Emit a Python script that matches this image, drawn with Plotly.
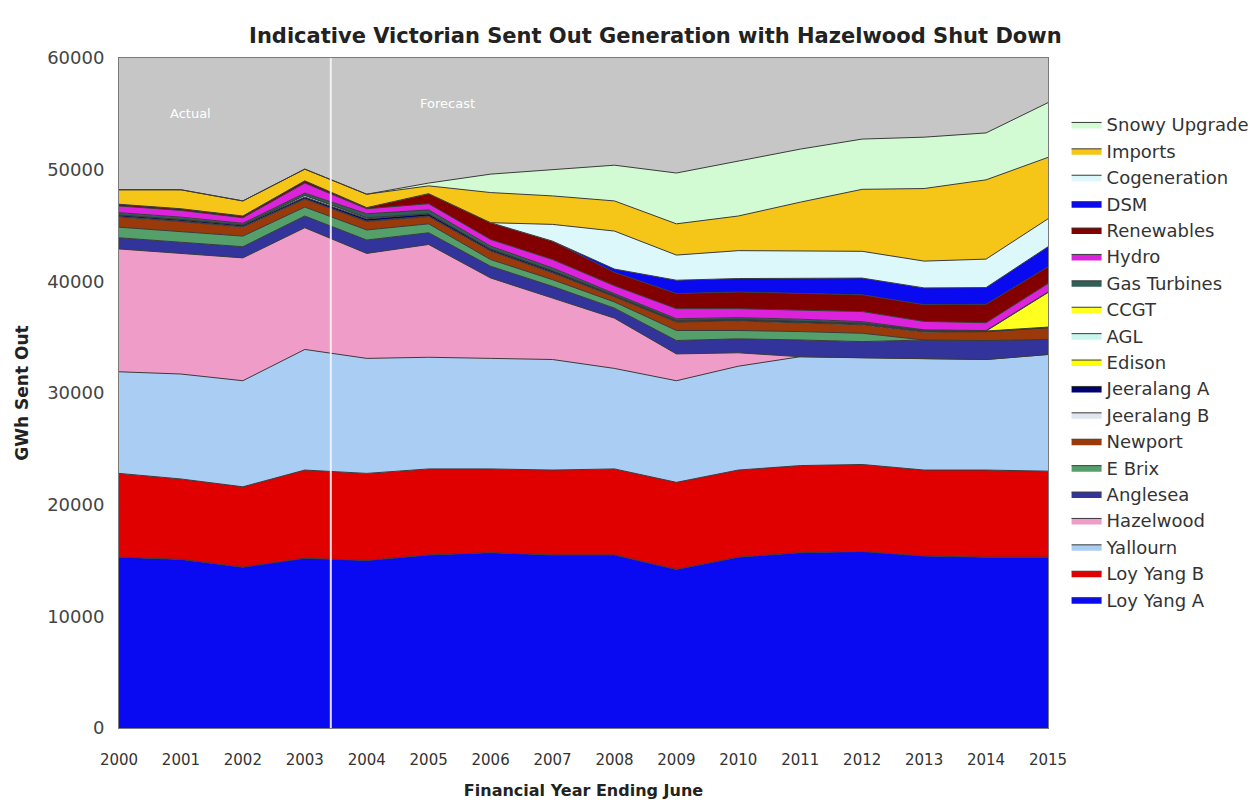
import plotly.graph_objects as go

years = [2000, 2001, 2002, 2003, 2004, 2005, 2006, 2007, 2008, 2009, 2010, 2011, 2012, 2013, 2014, 2015]
year_labels = ["2000", "2001", "2002", "2003", "2004", "2005", "2006", "2007", "2008", "2009",
               "2010", "2011", "2012", "2013", "2014", "2015"]

loy_yang_a = [15300, 15100, 14400, 15200, 15000, 15500, 15700, 15500, 15500, 14200, 15300, 15700, 15800, 15400, 15300, 15300]
loy_yang_b = [7500, 7200, 7200, 7900, 7800, 7700, 7500, 7600, 7700, 7800, 7800, 7800, 7800, 7700, 7800, 7700]
yallourn = [9100, 9400, 9500, 10800, 10300, 10000, 9900, 9900, 9000, 9100, 9300, 9750, 9550, 9950, 9900, 10450]
hazelwood = [11000, 10800, 11000, 10900, 9400, 10100, 7200, 5500, 4500, 2400, 1200, 0, 0, 0, 0, 0]
anglesea = [1000, 1000, 1000, 1050, 1200, 1050, 1050, 1050, 900, 1200, 1250, 1500, 1450, 1700, 1700, 1350]
e_brix = [950, 950, 950, 800, 900, 800, 600, 600, 550, 900, 750, 750, 750, 0, 0, 0]
newport = [900, 900, 800, 700, 750, 650, 750, 600, 450, 750, 850, 750, 750, 700, 800, 1050]
jeeralang_b = [50, 50, 50, 50, 50, 50, 50, 50, 50, 50, 50, 50, 50, 50, 0, 0]
jeeralang_a = [150, 150, 150, 150, 200, 200, 150, 150, 100, 100, 100, 100, 100, 100, 50, 50]
edison = [0, 0, 0, 0, 0, 0, 0, 0, 0, 0, 0, 0, 0, 0, 0, 0]
agl = [0, 0, 0, 150, 100, 0, 0, 0, 0, 0, 0, 0, 0, 0, 0, 0]
ccgt = [0, 0, 0, 0, 0, 0, 0, 0, 0, 0, 0, 0, 0, 0, 0, 3100]
gas_turbines = [200, 200, 150, 200, 350, 350, 250, 250, 150, 150, 150, 210, 140, 60, 40, 50]
hydro = [600, 600, 500, 900, 450, 550, 600, 750, 700, 900, 800, 830, 900, 750, 700, 750]
renewables = [150, 150, 150, 200, 100, 900, 1500, 1650, 1200, 1350, 1500, 1500, 1500, 1500, 1650, 1500]
dsm = [0, 0, 0, 0, 0, 0, 0, 0, 300, 1200, 1200, 1350, 1500, 1500, 1500, 1800]
cogeneration = [0, 0, 0, 0, 0, 0, 0, 1500, 3400, 2250, 2500, 2450, 2400, 2400, 2550, 2500]
imports = [1300, 1700, 1350, 1050, 1200, 700, 2700, 2550, 2700, 2800, 3100, 4350, 5550, 6500, 7100, 5500]
snowy_upgrade = [0, 0, 0, 0, 0, 250, 1650, 2350, 3200, 4550, 4950, 4750, 4500, 4600, 4200, 4900]

series = [
    ("Loy Yang A", loy_yang_a, "#0a0af2"),
    ("Loy Yang B", loy_yang_b, "#e00000"),
    ("Yallourn", yallourn, "#aacdf4"),
    ("Hazelwood", hazelwood, "#ef9dc8"),
    ("Anglesea", anglesea, "#33339c"),
    ("E Brix", e_brix, "#55a06a"),
    ("Newport", newport, "#9a3a0a"),
    ("Jeeralang B", jeeralang_b, "#dfe6f2"),
    ("Jeeralang A", jeeralang_a, "#000070"),
    ("Edison", edison, "#ffff00"),
    ("AGL", agl, "#c8f5ee"),
    ("CCGT", ccgt, "#ffff20"),
    ("Gas Turbines", gas_turbines, "#2f5f55"),
    ("Hydro", hydro, "#dd22dd"),
    ("Renewables", renewables, "#820000"),
    ("DSM", dsm, "#0a0af0"),
    ("Cogeneration", cogeneration, "#dcf8fa"),
    ("Imports", imports, "#f5c518"),
    ("Snowy Upgrade", snowy_upgrade, "#d2fbd4"),
]

fig = go.Figure()
for name, vals, col in series:
    fig.add_trace(go.Scatter(
        x=years, y=vals, name=name, mode="lines", stackgroup="one",
        line=dict(width=1, color="#3a3a3a"), fillcolor=col,
    ))

fig.add_shape(type="line", xref="x", yref="paper", x0=2003.42, x1=2003.42, y0=0, y1=1,
              line=dict(color="rgba(245,245,245,0.9)", width=2))

fig.add_annotation(x=2001.15, y=55000, text="Actual", showarrow=False,
                   font=dict(family="DejaVu Sans", size=13, color="white"))
fig.add_annotation(x=2005.3, y=55900, text="Forecast", showarrow=False,
                   font=dict(family="DejaVu Sans", size=13, color="white"))

fig.update_layout(
    width=1257, height=804,
    margin=dict(l=111, r=217, t=50, b=84, autoexpand=False),
    paper_bgcolor="white",
    plot_bgcolor="#c6c6c6",
    title=dict(text="<b>Indicative Victorian Sent Out Generation with Hazelwood Shut Down</b>",
               x=0.515, xanchor="center", y=0.966, yanchor="middle",
               font=dict(family="DejaVu Sans", size=21, color="#222222")),
    legend=dict(x=1.020, xanchor="left", y=0.928, yanchor="top", traceorder="reversed",
                itemwidth=30,
                font=dict(family="DejaVu Sans", size=18, color="#333333"),
                bgcolor="rgba(0,0,0,0)", tracegroupgap=0),
    xaxis=dict(range=[2000, 2015], tickvals=years, ticktext=year_labels, showgrid=False,
               zeroline=False, showline=True, mirror=True, linecolor="#7a7a7a",
               ticks="outside", ticklen=18, tickcolor="rgba(0,0,0,0)",
               tickfont=dict(family="DejaVu Sans", size=15, color="#333333"),
               title=dict(text="<b>Financial Year Ending June</b>", standoff=16,
                          font=dict(family="DejaVu Sans", size=16, color="#222222"))),
    yaxis=dict(range=[0, 60000], dtick=10000, tickformat="d", showgrid=False,
               zeroline=False, showline=True, mirror=True, linecolor="#7a7a7a",
               ticks="outside", ticklen=10, tickcolor="rgba(0,0,0,0)",
               tickfont=dict(family="DejaVu Sans", size=18, color="#444444"),
               title=dict(text="<b>GWh Sent Out</b>", standoff=14,
                          font=dict(family="DejaVu Sans", size=17, color="#222222"))),
)

fig.write_html("out.html")
